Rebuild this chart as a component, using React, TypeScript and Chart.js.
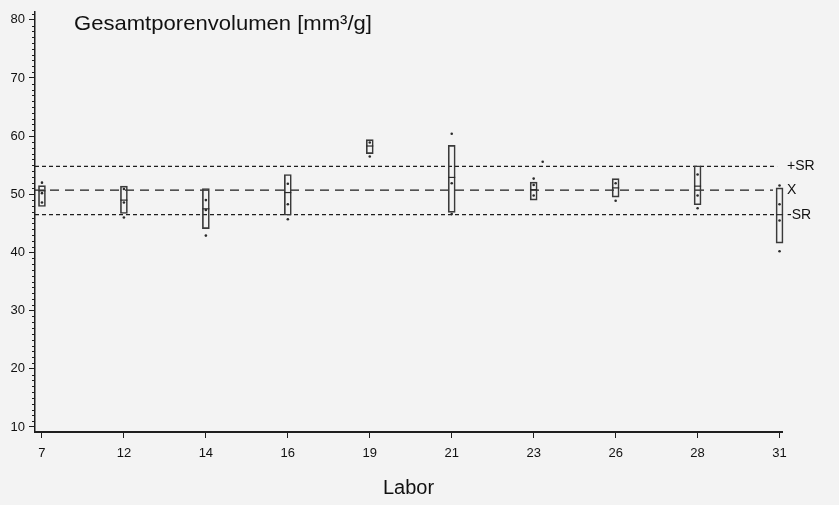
import React, { useEffect, useRef } from 'react';
import { Chart, registerables } from 'chart.js';

Chart.register(...registerables);

// ---- data ----
const labs = ['7', '12', '14', '16', '19', '21', '23', '26', '28', '31'];
const boxHigh = [51.5, 51.4, 51.0, 53.4, 59.4, 58.4, 52.1, 52.7, 54.9, 51.1];
const boxLow = [47.9, 46.7, 44.1, 46.4, 57.0, 46.9, 49.0, 49.5, 48.2, 41.6];
const medians = [50.6, 49.0, 47.5, 50.3, 58.3, 52.9, 50.8, 51.1, 51.4, 46.5];
const labValues: number[][] = [
  [52.0, 50.2, 48.6],
  [50.9, 48.6, 46.0],
  [49.0, 47.3, 42.9],
  [51.8, 48.3, 45.7],
  [58.9, 56.5],
  [60.4, 51.9, 46.6],
  [52.7, 51.6, 49.8],
  [51.9, 48.9],
  [53.4, 49.8, 47.6],
  [51.5, 48.3, 45.5, 40.2],
];
const strayDot = { x: 6.11, y: 55.6 };
const yTickValues = [10, 20, 30, 40, 50, 60, 70, 80];
const srPlus = 54.8;
const meanX = 50.7;
const srMinus = 46.5;
const refLabels = ['+SR', 'X', '-SR'];
const refValues = [srPlus, meanX, srMinus];
const titleText = 'Gesamtporenvolumen [mm³/g]';
const xTitle = 'Labor';

const X_MIN = -0.085;
const X_MAX = 9.03;
const Y_MIN = 9.14;
const Y_MAX = 81.37;
const SR_END = 8.97;
const X_END = 8.92;

const FONT = "'Liberation Sans', Arial, Helvetica, sans-serif";
const INK = '#1e1e1e';

const bgPlugin = {
  id: 'bg',
  beforeDraw(chart: any) {
    const { ctx, width, height } = chart;
    ctx.save();
    ctx.fillStyle = '#f3f3f3';
    ctx.fillRect(0, 0, width, height);
    ctx.restore();
  },
};

const decoPlugin = {
  id: 'deco',
  afterDraw(chart: any) {
    const { ctx, chartArea, scales } = chart;
    const y = scales.y;
    ctx.save();
    // minor ticks on y axis
    ctx.strokeStyle = INK;
    ctx.lineWidth = 1;
    ctx.beginPath();
    for (let v = Math.ceil(Y_MIN); v <= Math.floor(Y_MAX); v++) {
      if (v % 10 === 0) continue;
      const py = Math.round(y.getPixelForValue(v)) + 0.5;
      ctx.moveTo(chartArea.left - 3, py);
      ctx.lineTo(chartArea.left, py);
    }
    ctx.stroke();
    // title
    ctx.fillStyle = '#111';
    ctx.font = `21px ${FONT}`;
    ctx.textBaseline = 'alphabetic';
    ctx.textAlign = 'left';
    const w = ctx.measureText(titleText).width;
    const target = 298;
    ctx.save();
    ctx.translate(chartArea.left + 39, 30);
    ctx.scale(target / w, 1);
    ctx.fillText(titleText, 0, 0);
    ctx.restore();
    // right side labels
    ctx.font = `14px ${FONT}`;
    ctx.textBaseline = 'middle';
    refLabels.forEach((lbl, i) => {
      ctx.fillText(lbl, chartArea.right + 5, y.getPixelForValue(refValues[i]));
    });
    ctx.restore();
  },
};

export default function App() {
  const ref = useRef<HTMLCanvasElement | null>(null);
  useEffect(() => {
    if (!ref.current) return;
    const boxData = labs.map((_, i) => ({ x: i, y: [boxLow[i], boxHigh[i]] }));
    const medData = labs.map((_, i) => ({ x: i, y: medians[i] }));
    const dotData: { x: number; y: number }[] = [];
    labValues.forEach((arr, i) => arr.forEach((v) => dotData.push({ x: i, y: v })));
    dotData.push(strayDot);

    const chart = new Chart(ref.current, {
      type: 'scatter',
      data: {
        datasets: [
          {
            type: 'scatter',
            data: dotData,
            pointRadius: 1.3,
            pointBackgroundColor: '#2a2a2a',
            pointBorderWidth: 0,
            clip: false,
            order: 0,
          } as any,
          {
            type: 'scatter',
            data: medData,
            pointStyle: 'line',
            pointRadius: 3.5,
            pointBorderColor: '#2a2a2a',
            pointBorderWidth: 1.2,
            clip: false,
            order: 1,
          } as any,
          {
            type: 'bar',
            data: boxData,
            barThickness: 7,
            borderWidth: 1,
            borderColor: '#3a3a3a',
            backgroundColor: 'rgba(0,0,0,0)',
            borderSkipped: false,
            clip: false,
            order: 2,
          } as any,
          {
            type: 'line',
            data: [{ x: X_MIN, y: srPlus }, { x: SR_END, y: srPlus }],
            borderColor: INK,
            borderWidth: 1.2,
            borderDash: [4, 3],
            pointRadius: 0,
            showLine: true,
            order: 3,
          } as any,
          {
            type: 'line',
            data: [{ x: X_MIN, y: meanX }, { x: X_END, y: meanX }],
            borderColor: INK,
            borderWidth: 1.2,
            borderDash: [9, 6],
            pointRadius: 0,
            showLine: true,
            order: 3,
          } as any,
          {
            type: 'line',
            data: [{ x: X_MIN, y: srMinus }, { x: SR_END, y: srMinus }],
            borderColor: INK,
            borderWidth: 1.2,
            borderDash: [4, 3],
            pointRadius: 0,
            showLine: true,
            order: 3,
          } as any,
        ],
      },
      options: {
        animation: false,
        responsive: false,
        devicePixelRatio: 1,
        layout: { padding: { left: 0, right: 57, top: 10, bottom: 0 } },
        plugins: { legend: { display: false }, tooltip: { enabled: false } },
        scales: {
          x: {
            type: 'linear',
            min: X_MIN,
            max: X_MAX,
            offset: false,
            afterFit(scale: any) {
              scale.height = 73;
            },
            afterBuildTicks(scale: any) {
              scale.ticks = labs.map((_, i) => ({ value: i }));
            },
            grid: { offset: false, drawOnChartArea: false, drawTicks: true, tickLength: 6, tickColor: INK, tickWidth: 1 },
            border: { display: true, color: INK, width: 2 },
            ticks: {
              padding: 8,
              color: '#111',
              font: { family: FONT, size: 13 },
              maxRotation: 0,
              callback: (v: any) => labs[Math.round(Number(v))] ?? '',
            },
            title: {
              display: true,
              text: xTitle,
              color: '#111',
              font: { family: FONT, size: 20 },
              padding: { top: 0, bottom: 5 },
            },
          },
          y: {
            type: 'linear',
            min: Y_MIN,
            max: Y_MAX,
            afterFit(scale: any) {
              scale.width = 35;
            },
            afterBuildTicks(scale: any) {
              scale.ticks = yTickValues.map((v) => ({ value: v }));
            },
            grid: { drawOnChartArea: false, drawTicks: true, tickLength: 6, tickColor: INK, tickWidth: 1 },
            border: { display: true, color: INK, width: 1.5 },
            ticks: {
              padding: 4,
              color: '#111',
              font: { family: FONT, size: 13 },
              callback: (v: any) => String(v),
            },
          },
        },
      } as any,
      plugins: [bgPlugin, decoPlugin],
    });
    return () => chart.destroy();
  }, []);

  return (
    <div style={{ position: 'fixed', left: 0, top: 0, width: 839, height: 505, background: '#f3f3f3' }}>
      <canvas ref={ref} width={839} height={505} style={{ width: 839, height: 505, display: 'block' }} />
    </div>
  );
}
